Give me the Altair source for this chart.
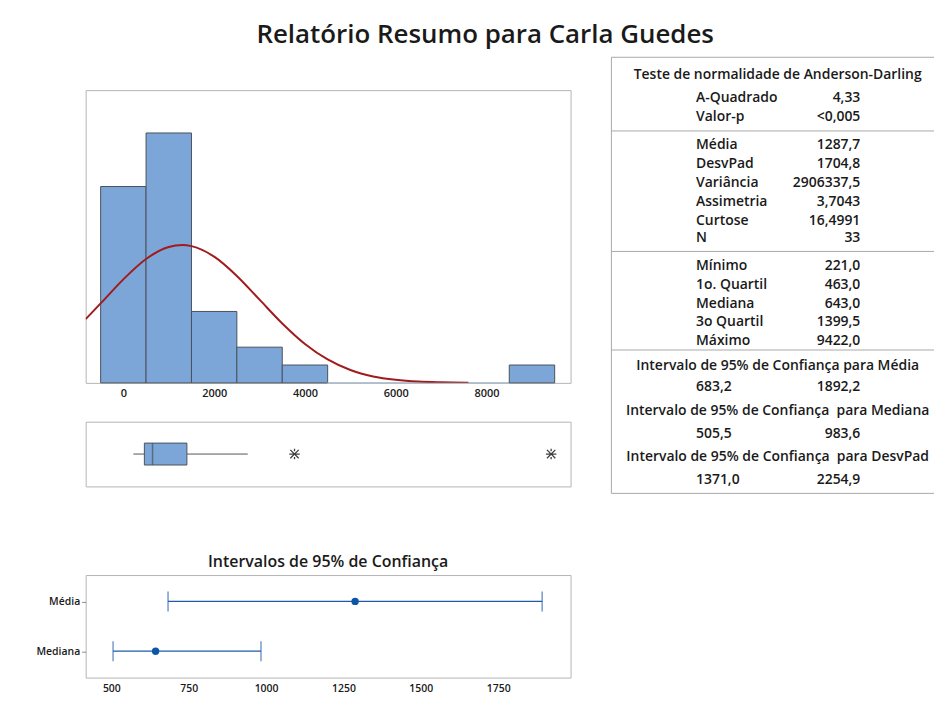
import altair as alt
import pandas as pd

FONT = "Open Sans"

# ---------------- data ----------------
TITLE = "Relatório Resumo para Carla Guedes"

bin_centers = [0, 1000, 2000, 3000, 4000, 5000, 6000, 7000, 8000, 9000]
bin_counts = [11, 14, 4, 2, 1, 0, 0, 0, 0, 1]

curve_x = [-830, -500, 0, 500, 1000, 1300, 1500, 2000, 2500, 3000, 3500,
           4000, 4500, 5000, 5500, 6000, 6500, 7000, 7600]
curve_y = [3.57, 4.45, 5.80, 6.94, 7.61, 7.72, 7.66, 7.07, 5.99, 4.66, 3.33,
           2.18, 1.31, 0.72, 0.36, 0.17, 0.07, 0.03, 0.01]

box_names = ["low", "q1", "median", "q3", "high"]
box_values = [221.0, 463.0, 643.0, 1399.5, 2740.0]
outlier_values = [3770.0, 9422.0]

ci_names = ["Média", "Mediana"]
ci_estimate = [1287.7, 643.0]
ci_lower = [683.2, 505.5]
ci_upper = [1892.2, 983.6]

hist_ticks = [0, 2000, 4000, 6000, 8000]
ci_ticks = [500, 750, 1000, 1250, 1500, 1750]

ad_header = ["Teste de normalidade de Anderson-Darling"]
stat_labels = ["A-Quadrado", "Valor-p", "Média", "DesvPad", "Variância",
               "Assimetria", "Curtose", "N", "Mínimo", "1o. Quartil",
               "Mediana", "3o Quartil", "Máximo"]
stat_values = ["4,33", "<0,005", "1287,7", "1704,8", "2906337,5", "3,7043",
               "16,4991", "33", "221,0", "463,0", "643,0", "1399,5", "9422,0"]
ci_headers = ["Intervalo de 95% de Confiança para Média",
              "Intervalo de 95% de Confiança\u00a0 para Mediana",
              "Intervalo de 95% de Confiança\u00a0 para DesvPad"]
ci_left_values = ["683,2", "505,5", "1371,0"]
ci_right_values = ["1892,2", "983,6", "2254,9"]

# ---------------- layout / style ----------------
PLOT_W = 487
HIST_H = 294
BOX_H = 65
CI_H = 103
TBL_W = 324
TBL_H = 438

AD_HEADER_POS = [18]
STAT_POS = [41, 60, 88, 107, 126, 145, 164, 182, 210, 229, 248, 266, 285]
CI_HEADER_POS = [310, 355, 401]
CI_VALUE_POS = [331, 378, 425]
SEPARATOR_POS = [0, 74, 195, 294, 438]

BAR_FILL = "#7ca6d8"
BAR_STROKE = "#4a525c"
CURVE = "#a01c1c"
FRAME = "#b4b4b4"
CI_BLUE = "#1f5aa8"
TXT = "#1a1a1a"
NOFRAME = alt.ViewBackground(stroke="transparent")

# ---------------- histogram ----------------
hist_df = pd.DataFrame({"center": bin_centers, "count": bin_counts})
curve_df = pd.DataFrame({"cx": curve_x, "cy": curve_y})

hx_scale = alt.Scale(domain=[-830, 9850], nice=False, zero=False)
hy_scale = alt.Scale(domain=[0, 16.4], nice=False, zero=False)
hx_axis = alt.Axis(values=hist_ticks, format="d", title=None, grid=False,
                   domain=False, ticks=False, labelPadding=5, labelFontSize=11)

bars = alt.Chart(hist_df).transform_calculate(
    x0="datum.center - 500", x1="datum.center + 500"
).mark_rect(fill=BAR_FILL, strokeWidth=1).encode(
    x=alt.X("x0:Q", scale=hx_scale, axis=hx_axis),
    x2="x1:Q",
    y=alt.Y("count:Q", scale=hy_scale, axis=None),
    y2=alt.datum(0),
    stroke=alt.condition("datum.count > 0", alt.value(BAR_STROKE), alt.value("#a9bbd0")),
)
curve = alt.Chart(curve_df).mark_line(color=CURVE, strokeWidth=2, interpolate="monotone", clip=True).encode(
    x=alt.X("cx:Q", scale=hx_scale, axis=hx_axis),
    y=alt.Y("cy:Q", scale=hy_scale, axis=None),
)
hist = alt.layer(bars, curve).properties(width=PLOT_W, height=HIST_H)

# ---------------- boxplot ----------------
box_df = pd.DataFrame([dict(zip(box_names, box_values))])
box_df["g"] = "dados"
out_df = pd.DataFrame({"v": outlier_values, "g": ["dados"] * len(outlier_values)})
bx_scale = alt.Scale(domain=[-830, 9850], nice=False, zero=False)
yb = alt.Y("g:N", axis=None, title=None)

w_low = alt.Chart(box_df).mark_rule(color="#555555", strokeWidth=1).encode(
    x=alt.X("low:Q", scale=bx_scale, axis=None), x2="q1:Q", y=yb)
w_high = alt.Chart(box_df).mark_rule(color="#555555", strokeWidth=1).encode(
    x=alt.X("q3:Q", scale=bx_scale, axis=None), x2="high:Q", y=yb)
box_rect = alt.Chart(box_df).mark_bar(fill=BAR_FILL, stroke=BAR_STROKE, strokeWidth=1, size=22).encode(
    x=alt.X("q1:Q", scale=bx_scale, axis=None), x2="q3:Q", y=yb)
med = alt.Chart(box_df).mark_tick(color=BAR_STROKE, thickness=1.5, size=22).encode(
    x=alt.X("median:Q", scale=bx_scale, axis=None), y=yb)
ASTERISK = "M-1,0L1,0M-0.8,-0.8L0.8,0.8M-0.8,0.8L0.8,-0.8M0,-1L0,-0.55M0,0.55L0,1"
outl = alt.Chart(out_df).mark_point(shape=ASTERISK, size=110, stroke="#404040", strokeWidth=1.3,
                                    filled=False, opacity=1).encode(
    x=alt.X("v:Q", scale=bx_scale, axis=None), y=yb)
box = alt.layer(w_low, w_high, box_rect, med, outl).properties(width=PLOT_W, height=BOX_H)

# ---------------- confidence intervals ----------------
ci_df = pd.DataFrame({"name": ci_names, "est": ci_estimate, "lo": ci_lower, "hi": ci_upper})
cx_scale = alt.Scale(domain=[417, 1984], nice=False, zero=False)
cx_axis = alt.Axis(values=ci_ticks, format="d", title=None, grid=False, domain=False,
                   ticks=False, labelPadding=6, labelFontSize=10.5)
yci = alt.Y("name:N", sort=ci_names, scale=alt.Scale(type="point", padding=0.53),
            axis=alt.Axis(title=None, domain=False, ticks=True, tickSize=4, tickColor="#888888",
                          labelPadding=2, labelFontSize=10.5))

ci_rule = alt.Chart(ci_df).mark_rule(color=CI_BLUE, strokeWidth=1.3).encode(
    x=alt.X("lo:Q", scale=cx_scale, axis=cx_axis), x2="hi:Q", y=yci)
cap_lo = alt.Chart(ci_df).mark_tick(color=CI_BLUE, thickness=1.3, size=20).encode(
    x=alt.X("lo:Q", scale=cx_scale, axis=cx_axis), y=yci)
cap_hi = alt.Chart(ci_df).mark_tick(color=CI_BLUE, thickness=1.3, size=20).encode(
    x=alt.X("hi:Q", scale=cx_scale, axis=cx_axis), y=yci)
ci_pt = alt.Chart(ci_df).mark_circle(color="#0b56a6", size=55, opacity=1).encode(
    x=alt.X("est:Q", scale=cx_scale, axis=cx_axis), y=yci)
ci = alt.layer(ci_rule, cap_lo, cap_hi, ci_pt).properties(
    width=PLOT_W, height=CI_H,
    title=alt.TitleParams("Intervalos de 95% de Confiança", fontSize=16, fontWeight=600,
                          anchor="middle", frame="group", offset=5, color=TXT),
)

# ---------------- spacer ----------------
spacer = alt.Chart(pd.DataFrame({"s": [0]})).mark_point(opacity=0).properties(
    width=PLOT_W, height=10, view=NOFRAME)

# ---------------- table ----------------
ys = alt.Scale(domain=[0, TBL_H], reverse=True, nice=False, zero=False)
yt = alt.Y("pos:Q", scale=ys, axis=None)

hdr_df = pd.DataFrame({"t": ad_header + ci_headers, "pos": AD_HEADER_POS + CI_HEADER_POS})
lab_df = pd.DataFrame({"t": stat_labels, "pos": STAT_POS})
val_df = pd.DataFrame({"t": stat_values, "pos": STAT_POS})
cil_df = pd.DataFrame({"t": ci_left_values, "pos": CI_VALUE_POS})
cir_df = pd.DataFrame({"t": ci_right_values, "pos": CI_VALUE_POS})
sep_df = pd.DataFrame({"pos": SEPARATOR_POS})

TXT_SIZE = 14
hdr = alt.Chart(hdr_df).mark_text(align="center", baseline="middle", fontSize=TXT_SIZE, fontWeight=600, color=TXT).encode(
    x=alt.value(167), y=yt, text="t:N")
labs = alt.Chart(lab_df).mark_text(align="left", baseline="middle", fontSize=TXT_SIZE, fontWeight=600, color=TXT).encode(
    x=alt.value(85), y=yt, text="t:N")
vals = alt.Chart(val_df).mark_text(align="right", baseline="middle", fontSize=TXT_SIZE, fontWeight=600, color=TXT).encode(
    x=alt.value(250), y=yt, text="t:N")
cil = alt.Chart(cil_df).mark_text(align="left", baseline="middle", fontSize=TXT_SIZE, fontWeight=600, color=TXT).encode(
    x=alt.value(85), y=yt, text="t:N")
cir = alt.Chart(cir_df).mark_text(align="right", baseline="middle", fontSize=TXT_SIZE, fontWeight=600, color=TXT).encode(
    x=alt.value(250), y=yt, text="t:N")
seps = alt.Chart(sep_df).mark_rule(color="#a8a8a8", strokeWidth=1).encode(
    y=yt, x=alt.value(0), x2=alt.value(TBL_W))
left_border = alt.Chart(pd.DataFrame({"pos": [0]})).mark_rule(color="#a8a8a8", strokeWidth=1).encode(
    x=alt.value(0), y=yt, y2=alt.value(TBL_H))
table = alt.layer(seps, left_border, hdr, labs, vals, cil, cir).properties(
    width=TBL_W, height=TBL_H, view=NOFRAME)

# ---------------- assemble ----------------
upper = alt.vconcat(spacer, hist, box, spacing=21)
left = alt.vconcat(upper, ci, spacing=66)
chart = alt.hconcat(left, table, spacing=39).properties(
    title=alt.TitleParams(TITLE, fontSize=26, fontWeight=600, anchor="middle", offset=8, color=TXT),
    padding={"left": 27, "top": 13, "right": 0, "bottom": 0},
).configure_view(stroke=FRAME, strokeWidth=1).configure_axis(
    labelFont=FONT, labelColor=TXT, titleFont=FONT, labelFontWeight=600
).configure_text(font=FONT).configure_title(font=FONT)

chart.save("out.html", embed_options={"renderer": "svg", "actions": False})
